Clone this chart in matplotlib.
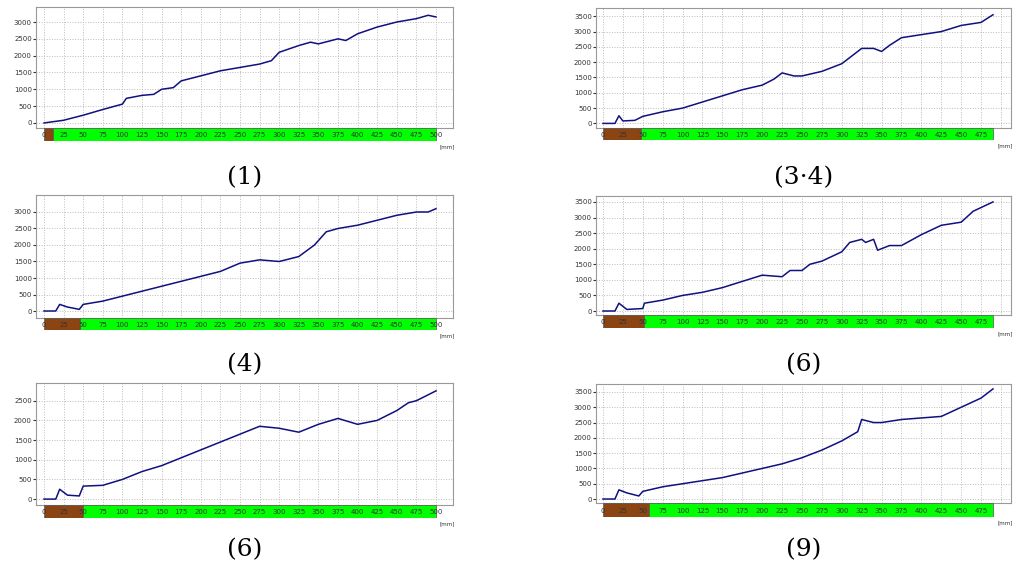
import matplotlib.pyplot as plt
import numpy as np

W, H = 1024, 580

# panel data: waypoints (mm, value)
p1_x = [0, 25, 50, 75, 100, 105, 125, 140, 150, 165, 175, 200, 225, 250, 275, 290, 300, 325, 340, 350, 375, 385, 400, 425, 450, 475, 490, 500]
p1_y = [0, 80, 230, 400, 560, 730, 820, 850, 1000, 1050, 1250, 1400, 1550, 1650, 1750, 1850, 2100, 2300, 2400, 2350, 2500, 2450, 2650, 2850, 3000, 3100, 3200, 3150]

p2_x = [0, 15, 20, 25, 40, 50, 75, 100, 125, 150, 175, 200, 215, 225, 240, 250, 275, 300, 325, 340, 350, 360, 375, 400, 425, 450, 475, 490]
p2_y = [0, 0, 250, 80, 100, 230, 380, 500, 700, 900, 1100, 1250, 1450, 1650, 1550, 1550, 1700, 1950, 2450, 2450, 2350, 2550, 2800, 2900, 3000, 3200, 3300, 3550]

p3_x = [0, 15, 20, 30, 45, 50, 75, 100, 125, 150, 175, 200, 225, 250, 275, 300, 325, 345, 360, 375, 400, 425, 450, 475, 490, 500]
p3_y = [0, 0, 200, 120, 50, 200, 300, 450, 600, 750, 900, 1050, 1200, 1450, 1550, 1500, 1650, 2000, 2400, 2500, 2600, 2750, 2900, 3000, 3000, 3100]

p4_x = [0, 15, 20, 30, 50, 52, 75, 100, 125, 150, 175, 200, 225, 235, 250, 260, 275, 300, 310, 325, 330, 340, 345, 360, 375, 400, 425, 450, 465, 490]
p4_y = [0, 0, 250, 50, 80, 250, 350, 500, 600, 750, 950, 1150, 1100, 1300, 1300, 1500, 1600, 1900, 2200, 2300, 2200, 2300, 1950, 2100, 2100, 2450, 2750, 2850, 3200, 3500]

p5_x = [0, 15, 20, 30, 45, 50, 75, 100, 125, 150, 175, 200, 225, 250, 275, 300, 325, 350, 375, 400, 425, 450, 465, 475, 500]
p5_y = [0, 0, 250, 100, 80, 330, 350, 500, 700, 850, 1050, 1250, 1450, 1650, 1850, 1800, 1700, 1900, 2050, 1900, 2000, 2250, 2450, 2500, 2750]

p6_x = [0, 15, 20, 30, 45, 50, 75, 100, 125, 150, 175, 200, 225, 250, 275, 300, 320, 325, 340, 350, 375, 400, 425, 450, 475, 490]
p6_y = [0, 0, 300, 200, 100, 250, 400, 500, 600, 700, 850, 1000, 1150, 1350, 1600, 1900, 2200, 2600, 2500, 2500, 2600, 2650, 2700, 3000, 3300, 3600]

captions = ["(1)", "(3·4)", "(4)", "(6)", "(6)", "(9)"]
brown_end = [12, 48, 46, 52, 50, 58]
bar_end = [500, 490, 500, 490, 500, 490]
ymax_tick = [3000, 3500, 3000, 3500, 2500, 3500]

# layout in pixels: (left, top, right, plot bottom, bar bottom), ylim, caption y
panels = [
    (p1_x, p1_y, (36, 7, 453, 128, 141), (-150, 3446), 178),
    (p2_x, p2_y, (596, 8, 1011, 128, 140), (-150, 3770), 178),
    (p3_x, p3_y, (36, 195, 453, 318, 330), (-212, 3515), 365),
    (p4_x, p4_y, (596, 196, 1011, 315, 328), (-128, 3690), 365),
    (p5_x, p5_y, (36, 383, 453, 505, 518), (-150, 2950), 550),
    (p6_x, p6_y, (596, 384, 1011, 503, 517), (-130, 3760), 550),
]

fig = plt.figure(figsize=(W / 100, H / 100), dpi=100)

for i, (xs, ys, box, ylim, cap_y) in enumerate(panels):
    l, t, r, b, bb = box
    left_side = l < 500
    xlim = (-10.2, 521.7) if left_side else (-8.8, 512.6)

    ax = fig.add_axes([l / W, 1 - b / H, (r - l) / W, (b - t) / H])
    ax.plot(xs, ys, color="#101080", lw=1.1)
    ax.set_xlim(xlim)
    ax.set_ylim(ylim)
    ax.set_xticks(np.arange(0, 501, 25))
    ax.set_xticklabels([])
    ax.set_yticks(np.arange(0, ymax_tick[i] + 1, 500))
    ax.tick_params(axis="y", labelsize=5, length=2, pad=1, colors="#333333")
    ax.tick_params(axis="x", length=0)
    ax.grid(True, ls=":", color="#bbbbbb", lw=0.7)
    for s in ax.spines.values():
        s.set_color("#999999")
        s.set_linewidth(0.8)

    bx = fig.add_axes([l / W, 1 - bb / H, (r - l) / W, (bb - b) / H])
    bx.set_xlim(xlim)
    bx.set_ylim(0, 1)
    bx.axvspan(0, brown_end[i], color="#8b4513", ec="#555555", lw=0.5)
    bx.axvspan(brown_end[i], bar_end[i], color="#00ff00", ec="#555555", lw=0.5)
    bx.axis("off")
    for v in range(0, bar_end[i] + 1, 25):
        bx.text(v, 0.45, str(v), fontsize=5, ha="center", va="center", color="#333333")
    fig.text((r - 6) / W, 1 - (bb + 6) / H, "[mm]", fontsize=4, ha="center", va="center", color="#333333")

    cx = (l + r) / 2 / W
    fig.text(cx, 1 - cap_y / H, captions[i], fontsize=18, ha="center", va="center",
             family=["DejaVu Serif"])

fig.savefig("out.png", dpi=100)
